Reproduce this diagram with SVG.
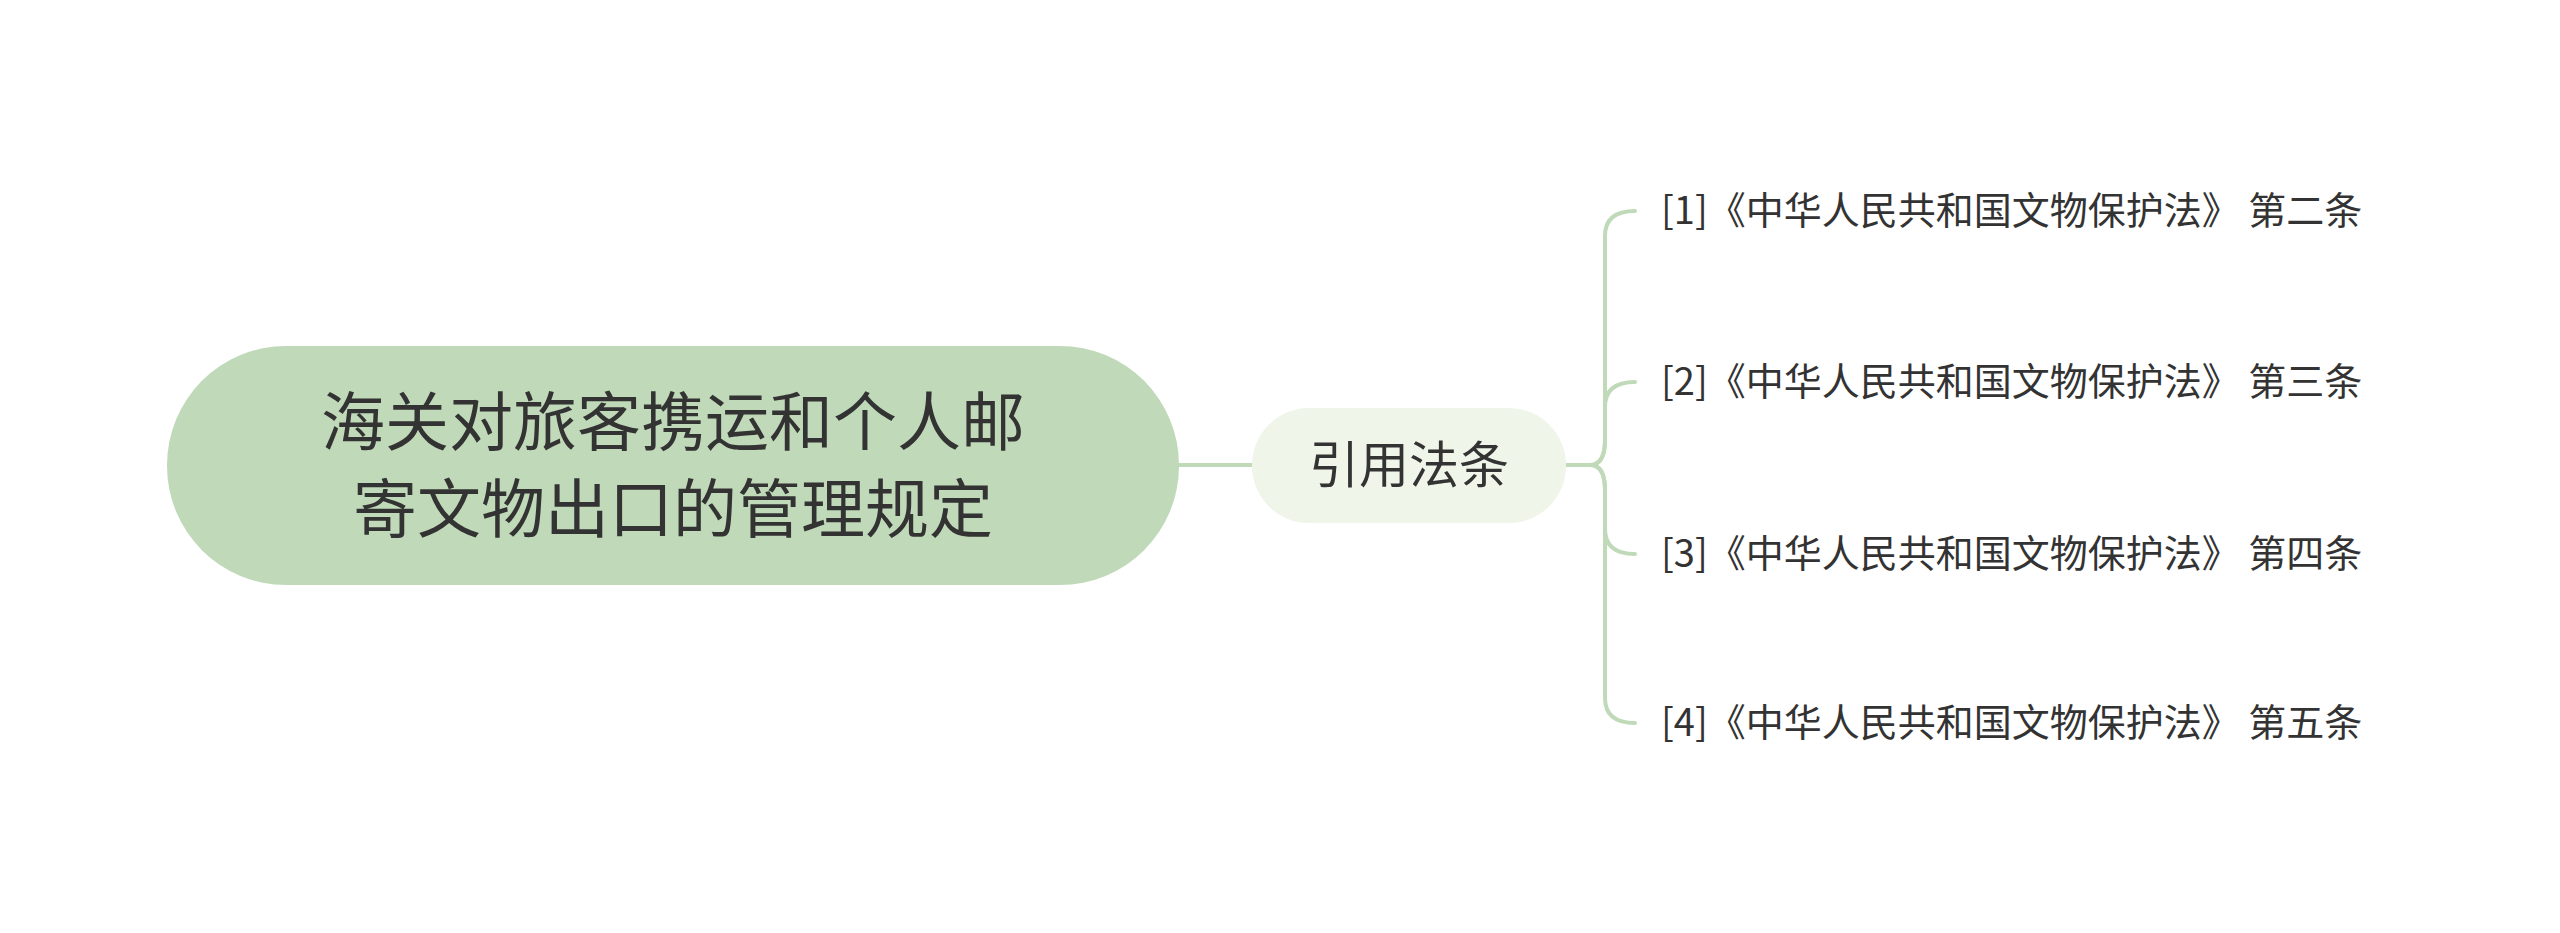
<svg xmlns="http://www.w3.org/2000/svg" width="2560" height="933" viewBox="0 0 2560 933">
<style>
.t{font-family:"Noto Sans CJK SC","Liberation Sans",sans-serif;fill:#333}
.c{fill:none;stroke:#c0dab9;stroke-width:4;stroke-linecap:round}
</style>
<rect width="2560" height="933" fill="#fff"/>
<g id="connectors">
<path class="c" d="M1179 465 L1252 465"/>
<path class="c" d="M1566 465 L1590 465"/>
<path class="c" d="M1590 465 Q1605 465 1605 440 L1605 236 Q1605 211 1635 211"/>
<path class="c" d="M1590 465 Q1605 465 1605 440 L1605 407 Q1605 382 1635 382"/>
<path class="c" d="M1590 465 Q1605 465 1605 490 L1605 529 Q1605 554 1635 554"/>
<path class="c" d="M1590 465 Q1605 465 1605 490 L1605 698 Q1605 723 1635 723"/>
</g>
<g id="root">
<rect x="167" y="346" width="1012" height="239" rx="119" fill="#c0dab9"/>
<text class="t" x="673" y="445" font-size="64" text-anchor="middle">海关对旅客携运和个人邮</text>
<text class="t" x="673" y="532" font-size="64" text-anchor="middle">寄文物出口的管理规定</text>
</g>
<g id="sub">
<rect x="1252" y="408" width="314" height="115" rx="57" fill="#eff6e9"/>
<text class="t" x="1409" y="483" font-size="50" text-anchor="middle">引用法条</text>
</g>
<g id="leaf1"><text class="t" x="1661" y="224" font-size="38">[1]《中华人民共和国文物保护法》 第二条</text></g>
<g id="leaf2"><text class="t" x="1661" y="395" font-size="38">[2]《中华人民共和国文物保护法》 第三条</text></g>
<g id="leaf3"><text class="t" x="1661" y="567" font-size="38">[3]《中华人民共和国文物保护法》 第四条</text></g>
<g id="leaf4"><text class="t" x="1661" y="736" font-size="38">[4]《中华人民共和国文物保护法》 第五条</text></g>
</svg>
